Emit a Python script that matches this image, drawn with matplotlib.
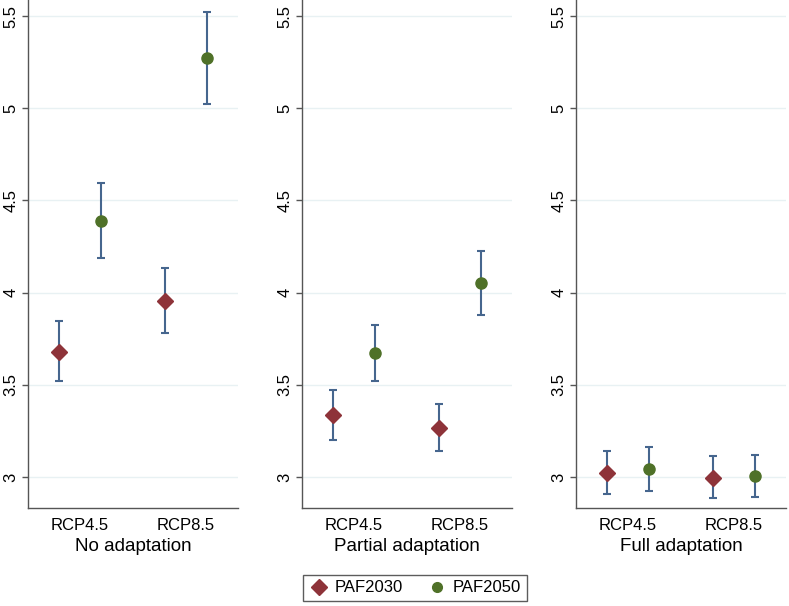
import matplotlib
matplotlib.use('Agg')
import matplotlib.pyplot as plt
from matplotlib.lines import Line2D

plt.rcParams['font.family'] = ['Liberation Sans', 'DejaVu Sans']

# Dados
cenarios = ['RCP4.5', 'RCP8.5']
paineis = ['No adaptation', 'Partial adaptation', 'Full adaptation']

paf2030 = [[3.68, 3.955], [3.337, 3.268], [3.022, 2.995]]
paf2030_lo = [[3.522, 3.783], [3.201, 3.141], [2.908, 2.884]]
paf2030_hi = [[3.844, 4.132], [3.473, 3.397], [3.141, 3.112]]

paf2050 = [[4.391, 5.273], [3.670, 4.050], [3.042, 3.004]]
paf2050_lo = [[4.19, 5.022], [3.520, 3.878], [2.926, 2.893]]
paf2050_hi = [[4.594, 5.524], [3.822, 4.224], [3.161, 3.12]]

yticks = [3, 3.5, 4, 4.5, 5, 5.5]
ytick_labels = ['3', '3.5', '4', '4.5', '5', '5.5']

cor_2030 = '#8E3339'
cor_2050 = '#4F7128'
cor_barra = '#46668E'
cor_grade = '#E8F1F3'

W, H = 789, 606
fig = plt.figure(figsize=(W / 100, H / 100), dpi=100)

lefts = [28, 302, 576]
x = [1, 2]
desloc = 0.2

for i, left in enumerate(lefts):
    ax = fig.add_axes([left / W, (H - 508) / H, 210 / W, 508 / H])
    x1 = [v - desloc for v in x]
    x2 = [v + desloc for v in x]

    err1 = [[m - l for m, l in zip(paf2030[i], paf2030_lo[i])],
            [h - m for m, h in zip(paf2030[i], paf2030_hi[i])]]
    err2 = [[m - l for m, l in zip(paf2050[i], paf2050_lo[i])],
            [h - m for m, h in zip(paf2050[i], paf2050_hi[i])]]

    ax.errorbar(x1, paf2030[i], yerr=err1, fmt='none', ecolor=cor_barra,
                elinewidth=1.5, capsize=3, capthick=1.5, zorder=2)
    ax.errorbar(x2, paf2050[i], yerr=err2, fmt='none', ecolor=cor_barra,
                elinewidth=1.5, capsize=3, capthick=1.5, zorder=2)
    ax.plot(x1, paf2030[i], 'D', color=cor_2030, markersize=8, zorder=3)
    ax.plot(x2, paf2050[i], 'o', color=cor_2050, markersize=8, zorder=3)

    ax.set_xlim(0.51, 2.49)
    ax.set_ylim(2.832, 5.587)
    ax.set_yticks(yticks)
    ax.set_yticklabels(ytick_labels, rotation=90, va='center', fontsize=12)
    ax.set_xticks(x)
    ax.set_xticklabels(cenarios, fontsize=12)
    ax.tick_params(axis='x', length=0, pad=7)
    ax.tick_params(axis='y', length=4, width=1, color='#555555', pad=3)
    ax.set_xlabel(paineis[i], fontsize=13.5, labelpad=4)

    ax.grid(axis='y', color=cor_grade, linewidth=1)
    ax.set_axisbelow(True)
    for lado in ['top', 'right']:
        ax.spines[lado].set_visible(False)
    for lado in ['left', 'bottom']:
        ax.spines[lado].set_color('#555555')
        ax.spines[lado].set_linewidth(1)

handles = [Line2D([], [], marker='D', color=cor_2030, linestyle='none', markersize=8),
           Line2D([], [], marker='o', color=cor_2050, linestyle='none', markersize=7)]
leg = fig.legend(handles, ['PAF2030', 'PAF2050'], loc='center',
                 bbox_to_anchor=(415 / W, 1 - 588 / H), ncol=2, fontsize=12,
                 frameon=True, fancybox=False, edgecolor='#333333',
                 handletextpad=0.3, columnspacing=1.5, borderpad=0.35,
                 handlelength=1.2)
leg.get_frame().set_linewidth(1)

fig.savefig('out.png', dpi=100)
plt.close()
